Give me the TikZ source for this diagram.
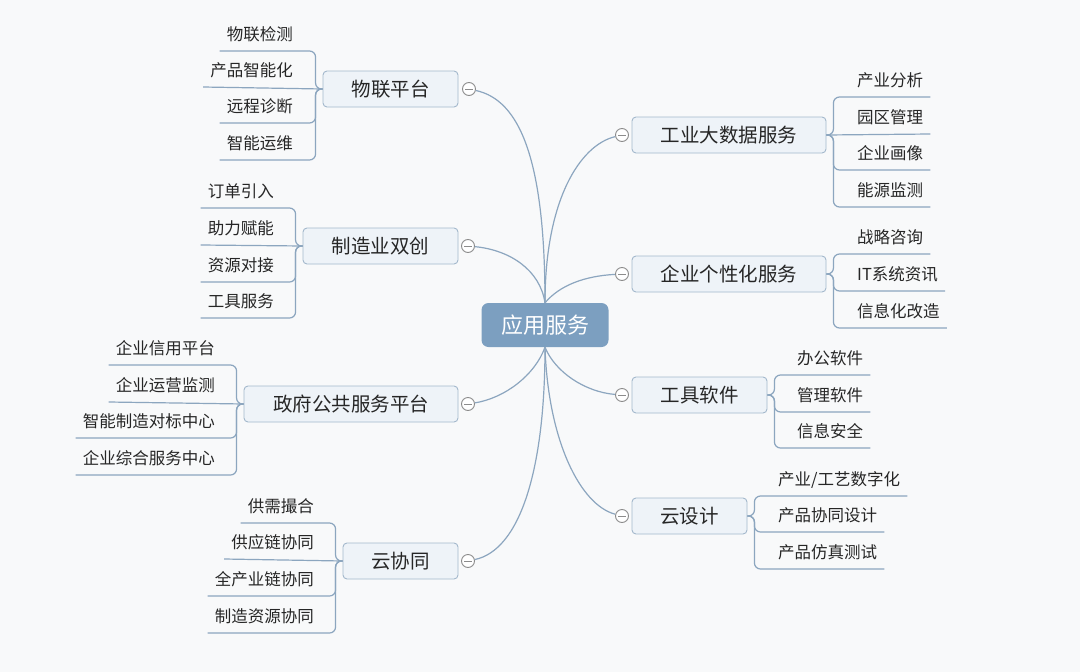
\documentclass[tikz,border=0pt]{standalone}
\usepackage{fontspec}
\setmainfont{Noto Sans CJK SC}
\usetikzlibrary{calc}
\definecolor{bg}{HTML}{F8F9FA}
\definecolor{cfill}{HTML}{7C9FC0}
\definecolor{bfill}{HTML}{EEF3F8}
\definecolor{bdraw}{HTML}{A3B8CC}
\definecolor{lcol}{HTML}{8CA6BF}
\definecolor{kcol}{HTML}{8C8C8C}
\definecolor{tcol}{HTML}{262626}
% left leaf: name, branch, x, underline y, text
\newcommand\LL[5]{\node[leaf,anchor=base east] (#1) at (#3,#4-11) {#5};
  \draw[conn] (#2.west) -- ++(-7,0) |- ($(#1.base west)+(0,11)$);}
\newcommand\LLs[5]{\node[leaf,anchor=base east] (#1) at (#3,#4-11) {#5};
  \draw[conn] (#2.west) -- ($(#1.base west)+(0,11)$);}
\newcommand\RR[5]{\node[leaf,anchor=base west] (#1) at (#3,#4-11) {#5};
  \draw[conn] (#2.east) -- ++(7,0) |- ($(#1.base east)+(0,11)$);}
\newcommand\RRs[5]{\node[leaf,anchor=base west] (#1) at (#3,#4-11) {#5};
  \draw[conn] (#2.east) -- ($(#1.base east)+(0,11)$);}
\begin{document}
\begin{tikzpicture}[x=1pt,y=-1pt,
 centerbox/.style={rectangle, rounded corners=7pt, fill=cfill, text=white,
   font=\fontsize{22}{26}\selectfont, minimum width=127pt, minimum height=44pt, inner sep=0},
 branch/.style={rectangle, rounded corners=4pt, fill=bfill, draw=bdraw, line width=0.9pt,
   font=\fontsize{19.5}{23}\selectfont, text=tcol, minimum height=36pt, inner sep=0},
 leaf/.style={font=\fontsize{16.5}{20}\selectfont, text=tcol, inner xsep=7pt, inner ysep=0},
 conn/.style={draw=lcol, line width=1.2pt, rounded corners=6pt},
 curve/.style={draw=lcol, line width=1.2pt},
 knob/.style={circle, draw=kcol, fill=white, line width=0.9pt, minimum size=13pt, inner sep=0,
   path picture={\draw[kcol, line width=1pt] ([xshift=-4pt]path picture bounding box.center) -- ([xshift=4pt]path picture bounding box.center);}},
]
\path[use as bounding box, fill=bg] (0,0) rectangle (1080,672);

% center
\node[centerbox] (c) at (545,325) {应用服务};

% branches
\node[branch, minimum width=135pt] (b1) at (390.5,89) {物联平台};
\node[branch, minimum width=155pt] (b2) at (380.5,246) {制造业双创};
\node[branch, minimum width=214pt] (b3) at (351,404) {政府公共服务平台};
\node[branch, minimum width=115pt] (b4) at (400.5,561) {云协同};
\node[branch, minimum width=194pt] (b5) at (729,135) {工业大数据服务};
\node[branch, minimum width=194pt] (b6) at (729,274) {企业个性化服务};
\node[branch, minimum width=135pt] (b7) at (699.5,395) {工具软件};
\node[branch, minimum width=115pt] (b8) at (689.5,516) {云设计};

% knobs
\node[knob] (k1) at (469,89) {};
\node[knob] (k2) at (468,246) {};
\node[knob] (k3) at (468,404) {};
\node[knob] (k4) at (468,561) {};
\node[knob] (k5) at (622,135) {};
\node[knob] (k6) at (622,274) {};
\node[knob] (k7) at (622,395) {};
\node[knob] (k8) at (622,516) {};

% center connectors
\draw[curve] (c.north) .. controls (545,160) and (520,100) .. (k1);
\draw[curve] (c.north) .. controls (540,270) and (510,250) .. (k2);
\draw[curve] (c.north) .. controls (545,200) and (580,145) .. (k5);
\draw[curve] (c.north) .. controls (560,285) and (585,276) .. (k6);
\draw[curve] (c.south) .. controls (535,375) and (505,398) .. (k3);
\draw[curve] (c.south) .. controls (545,470) and (520,550) .. (k4);
\draw[curve] (c.south) .. controls (555,372) and (585,392) .. (k7);
\draw[curve] (c.south) .. controls (548,440) and (580,505) .. (k8);

% leaves: 物联平台
\LL{l11}{b1}{300}{51}{物联检测}
\LLs{l12}{b1}{300}{87}{产品智能化}
\LL{l13}{b1}{300}{123}{远程诊断}
\LL{l14}{b1}{300}{160}{智能运维}
% 制造业双创
\LL{l21}{b2}{281}{208}{订单引入}
\LLs{l22}{b2}{281}{245}{助力赋能}
\LL{l23}{b2}{281}{282}{资源对接}
\LL{l24}{b2}{281}{318}{工具服务}
% 政府公共服务平台
\LL{l31}{b3}{222}{365}{企业信用平台}
\LLs{l32}{b3}{222}{402}{企业运营监测}
\LL{l33}{b3}{222}{438}{智能制造对标中心}
\LL{l34}{b3}{222}{475}{企业综合服务中心}
% 云协同
\LL{l41}{b4}{321}{523}{供需撮合}
\LLs{l42}{b4}{321}{559}{供应链协同}
\LL{l43}{b4}{321}{596}{全产业链协同}
\LL{l44}{b4}{321}{633}{制造资源协同}
% 工业大数据服务
\RR{r51}{b5}{850}{97}{产业分析}
\RRs{r52}{b5}{850}{134}{园区管理}
\RR{r53}{b5}{850}{170}{企业画像}
\RR{r54}{b5}{850}{207}{能源监测}
% 企业个性化服务
\RR{r61}{b6}{850}{254}{战略咨询}
\RR{r62}{b6}{850}{291}{IT系统资讯}
\RR{r63}{b6}{850}{328}{信息化改造}
% 工具软件
\RR{r71}{b7}{790}{375}{办公软件}
\RR{r72}{b7}{790}{412}{管理软件}
\RR{r73}{b7}{790}{448}{信息安全}
% 云设计
\RR{r81}{b8}{771}{496}{产业/工艺数字化}
\RR{r82}{b8}{771}{532}{产品协同设计}
\RR{r83}{b8}{771}{569}{产品仿真测试}
\end{tikzpicture}
\end{document}
